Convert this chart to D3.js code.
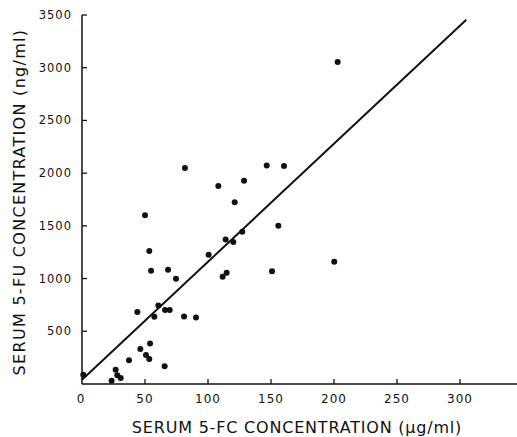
<!DOCTYPE html>
<html>
<head>
<meta charset="utf-8">
<script src="https://cdn.jsdelivr.net/npm/d3@7"></script>
<style>
  html, body { margin: 0; padding: 0; background: #fff; }
  text { font-family: "DejaVu Sans", sans-serif; fill: #111; }
</style>
</head>
<body>
<div id="chart"></div>
<script>
// Serum 5-FC (µg/ml) vs serum 5-FU (ng/ml)
const fcValues = [1, 23.5, 26.7, 28, 30.7, 37.3, 43.9, 46.3, 50, 50.8, 53.4, 53.4, 54, 54.8,
  57.4, 60.6, 65.6, 65.9, 68.3, 69.6, 74.6, 81, 81.7, 90.5, 100.5, 108.2, 111.6, 114,
  114.8, 120.1, 121.2, 127.2, 128.6, 146.6, 150.8, 155.8, 160.3, 200.2, 202.9];
const fuValues = [88, 31, 136, 83, 57, 225, 682, 333, 1600, 276, 1262, 238, 383, 1075,
  637, 745, 168, 701, 1084, 701, 999, 640, 2048, 631, 1227, 1877, 1018, 1370,
  1056, 1348, 1725, 1443, 1928, 2073, 1070, 1500, 2067, 1160, 3055];

// regression line end points
const lineX = [0, 305];
const lineY = [40, 3455];

const xTicks = [0, 50, 100, 150, 200, 250, 300];
const yTicks = [500, 1000, 1500, 2000, 2500, 3000, 3500];

const width = 517;
const height = 437;

const svg = d3.select("#chart")
  .append("svg")
  .attr("width", width)
  .attr("height", height);

const x = d3.scaleLinear().domain([0, 300]).range([82, 460]);
const y = d3.scaleLinear().domain([0, 3500]).range([384, 15]);

// x axis (line runs on to the right edge)
svg.append("line")
  .attr("x1", x(0)).attr("x2", width)
  .attr("y1", y(0)).attr("y2", y(0))
  .attr("stroke", "#111").attr("stroke-width", 1.5);

svg.append("g").selectAll("line")
  .data(xTicks.filter(d => d > 0))
  .enter().append("line")
  .attr("x1", d => x(d)).attr("x2", d => x(d))
  .attr("y1", y(0)).attr("y2", y(0) - 5)
  .attr("stroke", "#111").attr("stroke-width", 1.3);

svg.append("g").selectAll("text")
  .data(xTicks)
  .enter().append("text")
  .attr("x", d => x(d) - (d === 0 ? 1 : 0))
  .attr("y", y(0) + 19)
  .attr("text-anchor", "middle")
  .attr("font-size", "12px")
  .attr("letter-spacing", "1px")
  .text(d => d);

// y axis
svg.append("line")
  .attr("x1", x(0)).attr("x2", x(0))
  .attr("y1", y(3500)).attr("y2", y(0))
  .attr("stroke", "#111").attr("stroke-width", 1.5);

svg.append("g").selectAll("line")
  .data(yTicks)
  .enter().append("line")
  .attr("x1", x(0)).attr("x2", x(0) + 5)
  .attr("y1", d => y(d)).attr("y2", d => y(d))
  .attr("stroke", "#111").attr("stroke-width", 1.3);

svg.append("g").selectAll("text")
  .data(yTicks)
  .enter().append("text")
  .attr("x", 72)
  .attr("y", d => y(d) + 4)
  .attr("text-anchor", "end")
  .attr("font-size", "11.5px")
  .attr("letter-spacing", "1px")
  .text(d => d);

// axis titles
svg.append("text")
  .attr("x", 297)
  .attr("y", 433)
  .attr("text-anchor", "middle")
  .attr("font-size", "16px")
  .attr("letter-spacing", "0.8px")
  .text("SERUM 5-FC CONCENTRATION (µg/ml)");

svg.append("text")
  .attr("transform", "translate(25,202) rotate(-90)")
  .attr("text-anchor", "middle")
  .attr("font-size", "16px")
  .attr("letter-spacing", "1.3px")
  .text("SERUM 5-FU CONCENTRATION (ng/ml)");

// regression line
svg.append("line")
  .attr("x1", x(lineX[0])).attr("y1", y(lineY[0]))
  .attr("x2", x(lineX[1])).attr("y2", y(lineY[1]))
  .attr("stroke", "#111").attr("stroke-width", 2);

// data points
svg.append("g").selectAll("circle")
  .data(fcValues.map((v, i) => [v, fuValues[i]]))
  .enter().append("circle")
  .attr("cx", d => x(d[0]))
  .attr("cy", d => y(d[1]))
  .attr("r", 3)
  .attr("fill", "#111");
</script>
</body>
</html>
